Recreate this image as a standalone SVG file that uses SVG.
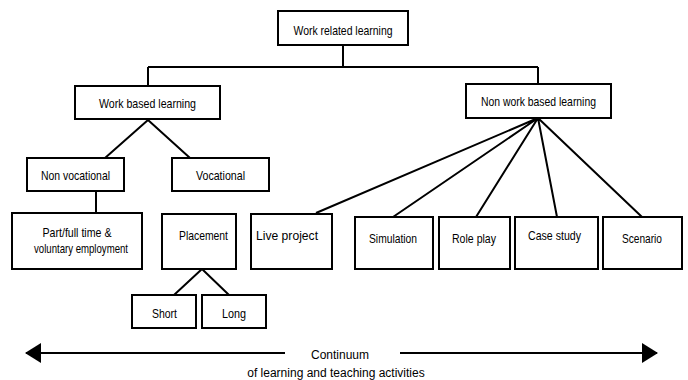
<svg xmlns="http://www.w3.org/2000/svg" width="688" height="380" viewBox="0 0 688 380">
<style>
.box{fill:#fff;stroke:#000;stroke-width:2}
.lbl{font-family:"Liberation Sans",Arial,sans-serif;font-size:13px;fill:#000;text-anchor:middle}
.cap{font-family:"Liberation Sans",Arial,sans-serif;font-size:12px;fill:#000;text-anchor:middle}
.ln{fill:none;stroke:#000;stroke-width:2}
</style>
<defs>
<marker id="ah" viewBox="0 0 16 20" refX="15" refY="10" markerWidth="16" markerHeight="20" markerUnits="userSpaceOnUse" orient="auto">
<path d="M0,0 L16,10 L0,20 Z" fill="#000"/>
</marker>
</defs>
<rect width="688" height="380" fill="#fff"/>
<g id="connectors">
<path class="ln" d="M343,45 V67 M148,67 H538 M148,67 V86 M538,67 V84"/>
<path class="ln" d="M148,120 L105,158 M148,120 L190,158"/>
<path class="ln" d="M96,191 V213"/>
<path class="ln" d="M202,269 L174,295 M202,269 L229,295"/>
<path class="ln" d="M538,118 L316,213 M538,118 L393,217 M538,118 L476,217 M538,118 L557,217 M538,118 L642,217"/>
<path class="ln" d="M285,353 H26" marker-end="url(#ah)"/>
<path class="ln" d="M400,353 H657" marker-end="url(#ah)"/>
</g>
<g id="n_wrl"><rect class="box" x="278" y="11" width="130" height="34"/><text class="lbl" x="343" y="35" textLength="99" lengthAdjust="spacingAndGlyphs">Work related learning</text></g>
<g id="n_wbl"><rect class="box" x="75" y="86" width="145" height="33"/><text class="lbl" x="147.5" y="108" textLength="97" lengthAdjust="spacingAndGlyphs">Work based learning</text></g>
<g id="n_nwbl"><rect class="box" x="466" y="84" width="145" height="34"/><text class="lbl" x="538.5" y="106" textLength="115" lengthAdjust="spacingAndGlyphs">Non work based learning</text></g>
<g id="n_nonvoc"><rect class="box" x="27" y="158" width="97" height="33"/><text class="lbl" x="75.5" y="180" textLength="69" lengthAdjust="spacingAndGlyphs">Non vocational</text></g>
<g id="n_voc"><rect class="box" x="172" y="158" width="97" height="33"/><text class="lbl" x="220.5" y="180" textLength="49" lengthAdjust="spacingAndGlyphs">Vocational</text></g>
<g id="n_part"><rect class="box" x="12" y="213" width="130" height="56"/><text class="lbl" x="77" y="237" textLength="69" lengthAdjust="spacingAndGlyphs">Part/full time &amp;</text><text class="lbl" x="81" y="253" textLength="94" lengthAdjust="spacingAndGlyphs">voluntary employment</text></g>
<g id="n_place"><rect class="box" x="162" y="214" width="74" height="55"/><text class="lbl" x="203.5" y="240" textLength="49" lengthAdjust="spacingAndGlyphs">Placement</text></g>
<g id="n_live"><rect class="box" x="251" y="214" width="81" height="55"/><text class="lbl" x="287" y="240" textLength="62" lengthAdjust="spacingAndGlyphs">Live project</text></g>
<g id="n_short"><rect class="box" x="132" y="295" width="64" height="33"/><text class="lbl" x="164.5" y="318" textLength="25" lengthAdjust="spacingAndGlyphs">Short</text></g>
<g id="n_long"><rect class="box" x="202" y="295" width="64" height="33"/><text class="lbl" x="234" y="318" textLength="24" lengthAdjust="spacingAndGlyphs">Long</text></g>
<g id="n_sim"><rect class="box" x="355" y="217" width="78" height="52"/><text class="lbl" x="393" y="243" textLength="48" lengthAdjust="spacingAndGlyphs">Simulation</text></g>
<g id="n_role"><rect class="box" x="439" y="217" width="71" height="52"/><text class="lbl" x="474" y="243" textLength="44" lengthAdjust="spacingAndGlyphs">Role play</text></g>
<g id="n_case"><rect class="box" x="515" y="217" width="83" height="52"/><text class="lbl" x="554.5" y="240" textLength="53" lengthAdjust="spacingAndGlyphs">Case study</text></g>
<g id="n_scen"><rect class="box" x="603" y="217" width="79" height="52"/><text class="lbl" x="642" y="243" textLength="40" lengthAdjust="spacingAndGlyphs">Scenario</text></g>
<g id="caption"><text class="cap" x="340" y="359">Continuum</text><text class="cap" x="336" y="377">of learning and teaching activities</text></g>
</svg>
